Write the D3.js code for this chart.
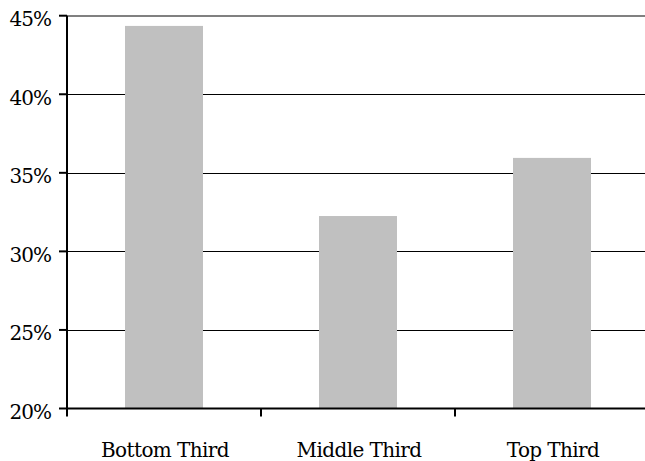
<!DOCTYPE html>
<html>
<head>
<meta charset="utf-8">
<script src="https://cdn.jsdelivr.net/npm/d3@7"></script>
<style>
  html, body { margin: 0; padding: 0; background: #fff; }
  svg { display: block; }
</style>
</head>
<body>
<svg id="chart" width="645" height="461"></svg>
<script>
// Share of respondents by tercile
const categories = ["Bottom Third", "Middle Third", "Top Third"];
const shares = [44.35, 32.25, 35.95];
const yTicks = [20, 25, 30, 35, 40, 45];

const serif = "'DejaVu Serif', 'Liberation Serif', 'Noto Serif', serif";

const svg = d3.select("#chart");
const plotLeft = 67, plotRight = 649, plotTop = 15.7, plotBottom = 408.5;

const x = d3.scaleBand()
  .domain(categories)
  .range([plotLeft, plotRight])
  .paddingInner(0.598)
  .paddingOuter(0.299);

const y = d3.scaleLinear()
  .domain([20, 45])
  .range([plotBottom, plotTop]);

// horizontal gridlines
svg.append("g")
  .selectAll("line")
  .data(yTicks.filter(t => t > 20))
  .join("line")
  .attr("x1", plotLeft)
  .attr("x2", 645)
  .attr("y1", d => d === 45 ? Math.round(y(d)) : Math.round(y(d)) + 0.5)
  .attr("y2", d => d === 45 ? Math.round(y(d)) : Math.round(y(d)) + 0.5)
  .attr("stroke", d => d === 45 ? "#808080" : "#000")
  .attr("stroke-width", d => d === 45 ? 2 : 1);

// bars
svg.append("g")
  .selectAll("rect")
  .data(categories.map((c, i) => ({ c, v: shares[i] })))
  .join("rect")
  .attr("x", d => x(d.c))
  .attr("width", x.bandwidth())
  .attr("y", d => y(d.v))
  .attr("height", d => y(20) - y(d.v))
  .attr("fill", "#c0c0c0");

// y axis
const yAxis = svg.append("g");
yAxis.append("line")
  .attr("x1", plotLeft).attr("x2", plotLeft)
  .attr("y1", plotTop).attr("y2", plotBottom + 8)
  .attr("stroke", "#000").attr("stroke-width", 2);
yAxis.selectAll("line.tick")
  .data(yTicks)
  .join("line")
  .attr("class", "tick")
  .attr("x1", plotLeft - 8).attr("x2", plotLeft)
  .attr("y1", d => y(d)).attr("y2", d => y(d))
  .attr("stroke", "#000").attr("stroke-width", 2);
yAxis.selectAll("text")
  .data(yTicks)
  .join("text")
  .attr("x", 51)
  .attr("y", d => y(d) + 10.5)
  .attr("text-anchor", "end")
  .attr("font-family", serif)
  .attr("font-size", 20)
  .attr("letter-spacing", -1)
  .attr("fill", "#000")
  .text(d => d + "%");

// x axis
const xAxis = svg.append("g");
xAxis.append("line")
  .attr("x1", plotLeft - 1).attr("x2", 645)
  .attr("y1", plotBottom).attr("y2", plotBottom)
  .attr("stroke", "#000").attr("stroke-width", 2);
xAxis.selectAll("line.tick")
  .data(categories.slice(1))
  .join("line")
  .attr("class", "tick")
  .attr("x1", d => x(d) - x.step() * x.paddingInner() / 2)
  .attr("x2", d => x(d) - x.step() * x.paddingInner() / 2)
  .attr("y1", plotBottom).attr("y2", plotBottom + 8)
  .attr("stroke", "#000").attr("stroke-width", 2);
xAxis.selectAll("text")
  .data(categories)
  .join("text")
  .attr("x", d => x(d) + x.bandwidth() / 2 + 1)
  .attr("y", 457)
  .attr("text-anchor", "middle")
  .attr("font-family", serif)
  .attr("font-size", 20)
  .attr("letter-spacing", -0.6)
  .attr("fill", "#000")
  .text(d => d);
</script>
</body>
</html>
